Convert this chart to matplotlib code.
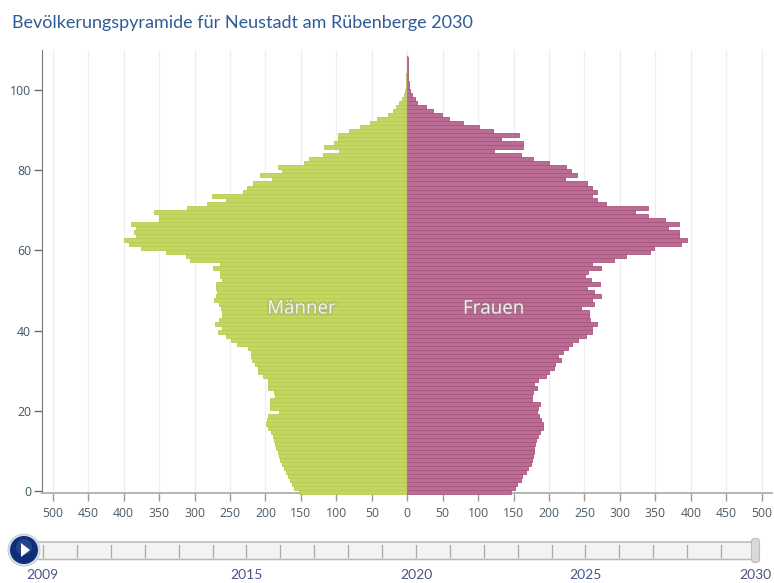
import numpy as np
import matplotlib
matplotlib.use('Agg')
import matplotlib.pyplot as plt
from matplotlib.patches import Circle, FancyBboxPatch, Polygon
import matplotlib.patheffects as pe

plt.rcParams['font.family'] = ['Open Sans', 'DejaVu Sans']

# Einwohner je Altersjahr, Alter 0 bis 108
maenner = [152, 159, 162, 166, 168, 171, 174, 176, 179, 181,
           182, 185, 186, 188, 189, 192, 196, 199, 198, 196,
           181, 194, 194, 193, 186, 188, 196, 196, 197, 203,
           210, 211, 215, 219, 220, 221, 224, 240, 248, 255,
           267, 261, 271, 265, 261, 261, 262, 265, 273, 270,
           268, 270, 270, 261, 264, 264, 274, 264, 307, 312,
           340, 375, 392, 400, 382, 386, 383, 390, 350, 350,
           357, 310, 282, 256, 275, 232, 226, 218, 190, 208,
           177, 182, 146, 138, 119, 96, 118, 103, 97, 97,
           82, 67, 52, 42, 27, 20, 16, 12, 8, 5,
           3, 1, 1, 1, 1, 0, 0, 0, 0]
frauen = [146, 152, 155, 160, 162, 167, 170, 174, 176, 178,
          179, 179, 180, 181, 184, 187, 191, 191, 189, 186,
          183, 184, 188, 176, 176, 177, 183, 179, 184, 196,
          200, 207, 209, 217, 213, 220, 227, 233, 241, 252,
          261, 260, 267, 258, 256, 257, 245, 263, 261, 273,
          263, 254, 272, 259, 251, 255, 273, 261, 291, 309,
          342, 348, 386, 394, 384, 384, 368, 384, 363, 339,
          322, 339, 280, 267, 261, 268, 261, 254, 222, 240,
          231, 224, 200, 177, 160, 122, 163, 163, 132, 157,
          121, 101, 79, 59, 49, 36, 26, 14, 11, 7,
          4, 2, 2, 1, 1, 1, 1, 1, 1]
alter = np.arange(len(maenner))

x_ticks = [-500, -450, -400, -350, -300, -250, -200, -150, -100, -50, 0,
           50, 100, 150, 200, 250, 300, 350, 400, 450, 500]
y_ticks = [0, 20, 40, 60, 80, 100]
jahre = np.arange(2009, 2031)
jahr_labels = [2009, 2015, 2020, 2025, 2030]

W, H = 774, 583
schmal = ['Lato', 'DejaVu Sans']
fig = plt.figure(figsize=(W / 100, H / 100), dpi=100)

# Pyramide: Achse von Pixel 42 bis 772, Alter 0 liegt bei Pixel 491
ax = fig.add_axes([42 / W, 1 - 493 / H, 730 / W, 443 / H])
ax.set_xlim((42 - 407.2) / 0.709, (772 - 407.2) / 0.709)
ax.set_ylim(-0.5, 110)

# Balken sitzen etwas unter den Ticks
bar_y = alter - 0.3
ax.barh(bar_y, -np.array(maenner), height=1.0, color='#c5d562', edgecolor='#b9cc52',
        linewidth=0.6, clip_on=False, zorder=3)
ax.barh(bar_y, frauen, height=1.0, color='#ba6c94', edgecolor='#a9567f',
        linewidth=0.6, clip_on=False, zorder=3)
ax.plot([0, 0], [0, 108.5], color='#a47aa0', linewidth=0.9, zorder=4)

ax.set_xticks(x_ticks)
ax.set_xticklabels([str(abs(t)) for t in x_ticks])
ax.set_yticks(y_ticks)
ax.grid(axis='x', color='#eeeef3', linewidth=0.9, zorder=0)
ax.set_axisbelow(True)
ax.tick_params(axis='x', length=6, width=1, color='#9a9a9a', labelcolor='#4c5c68', labelsize=8.8, pad=4)
ax.tick_params(axis='y', length=6, width=1, color='#6a6a6a', labelcolor='#3f5563', labelsize=8.8, pad=2)
for s in ['top', 'right']:
    ax.spines[s].set_visible(False)
ax.spines['left'].set_color('#777777')
ax.spines['bottom'].set_color('#b4b4b4')
ax.spines['bottom'].set_linewidth(1.4)

for lab, xval in [('Männer', -149), ('Frauen', 122)]:
    t = ax.text(xval, 45.5, lab, color='#f1f1ee', fontsize=13.5, ha='center', va='center', zorder=5)
    t.set_path_effects([pe.withStroke(linewidth=2.5, foreground='#888888', alpha=0.25)])

# Zeitleiste in Pixelkoordinaten
ui = fig.add_axes([0, 0, 1, 1], facecolor='none')
ui.set_xlim(0, W)
ui.set_ylim(H, 0)
ui.axis('off')


def jahr_x(j):
    return 43 + (j - 2009) * (755 - 43) / 21


ui.add_patch(FancyBboxPatch((14, 542), 741, 17.5, boxstyle='round,pad=0,rounding_size=2',
                            facecolor='#f3f3f3', edgecolor='#b9b9b9', linewidth=1.1))
for j in jahre[:-1]:
    ui.plot([jahr_x(j)] * 2, [545, 557], color='#a8a8a8', linewidth=0.9)
for j in jahr_labels:
    ui.text(jahr_x(j) - (1 if j == 2009 else 0), 575, str(j), color='#4a5588', fontsize=10,
            ha='center', va='center', family=schmal)

ui.add_patch(FancyBboxPatch((752, 539), 7, 23, boxstyle='round,pad=0.5,rounding_size=3',
                            facecolor='#d9d9d9', edgecolor='#bdbdbd', linewidth=0.8))

ui.add_patch(Circle((24, 550), 16, facecolor='#d8dde6', edgecolor='#c0c6d0', linewidth=0.6, zorder=5))
ui.add_patch(Circle((24, 550), 14, facecolor='#0e2f78', edgecolor='none', zorder=6))
ui.add_patch(Circle((24, 547), 8, facecolor='#2a4f96', edgecolor='none', alpha=0.7, zorder=6))
ui.add_patch(Polygon([[21, 543], [21, 557], [30, 550]], closed=True, facecolor='white',
                     edgecolor='none', zorder=7))

fig.text(12 / W, 1 - 23 / H, 'Bevölkerungspyramide für Neustadt am Rübenberge 2030',
         color='#2f5c96', fontsize=12.95, ha='left', va='center', family=schmal)

fig.savefig('out.png', dpi=100)
